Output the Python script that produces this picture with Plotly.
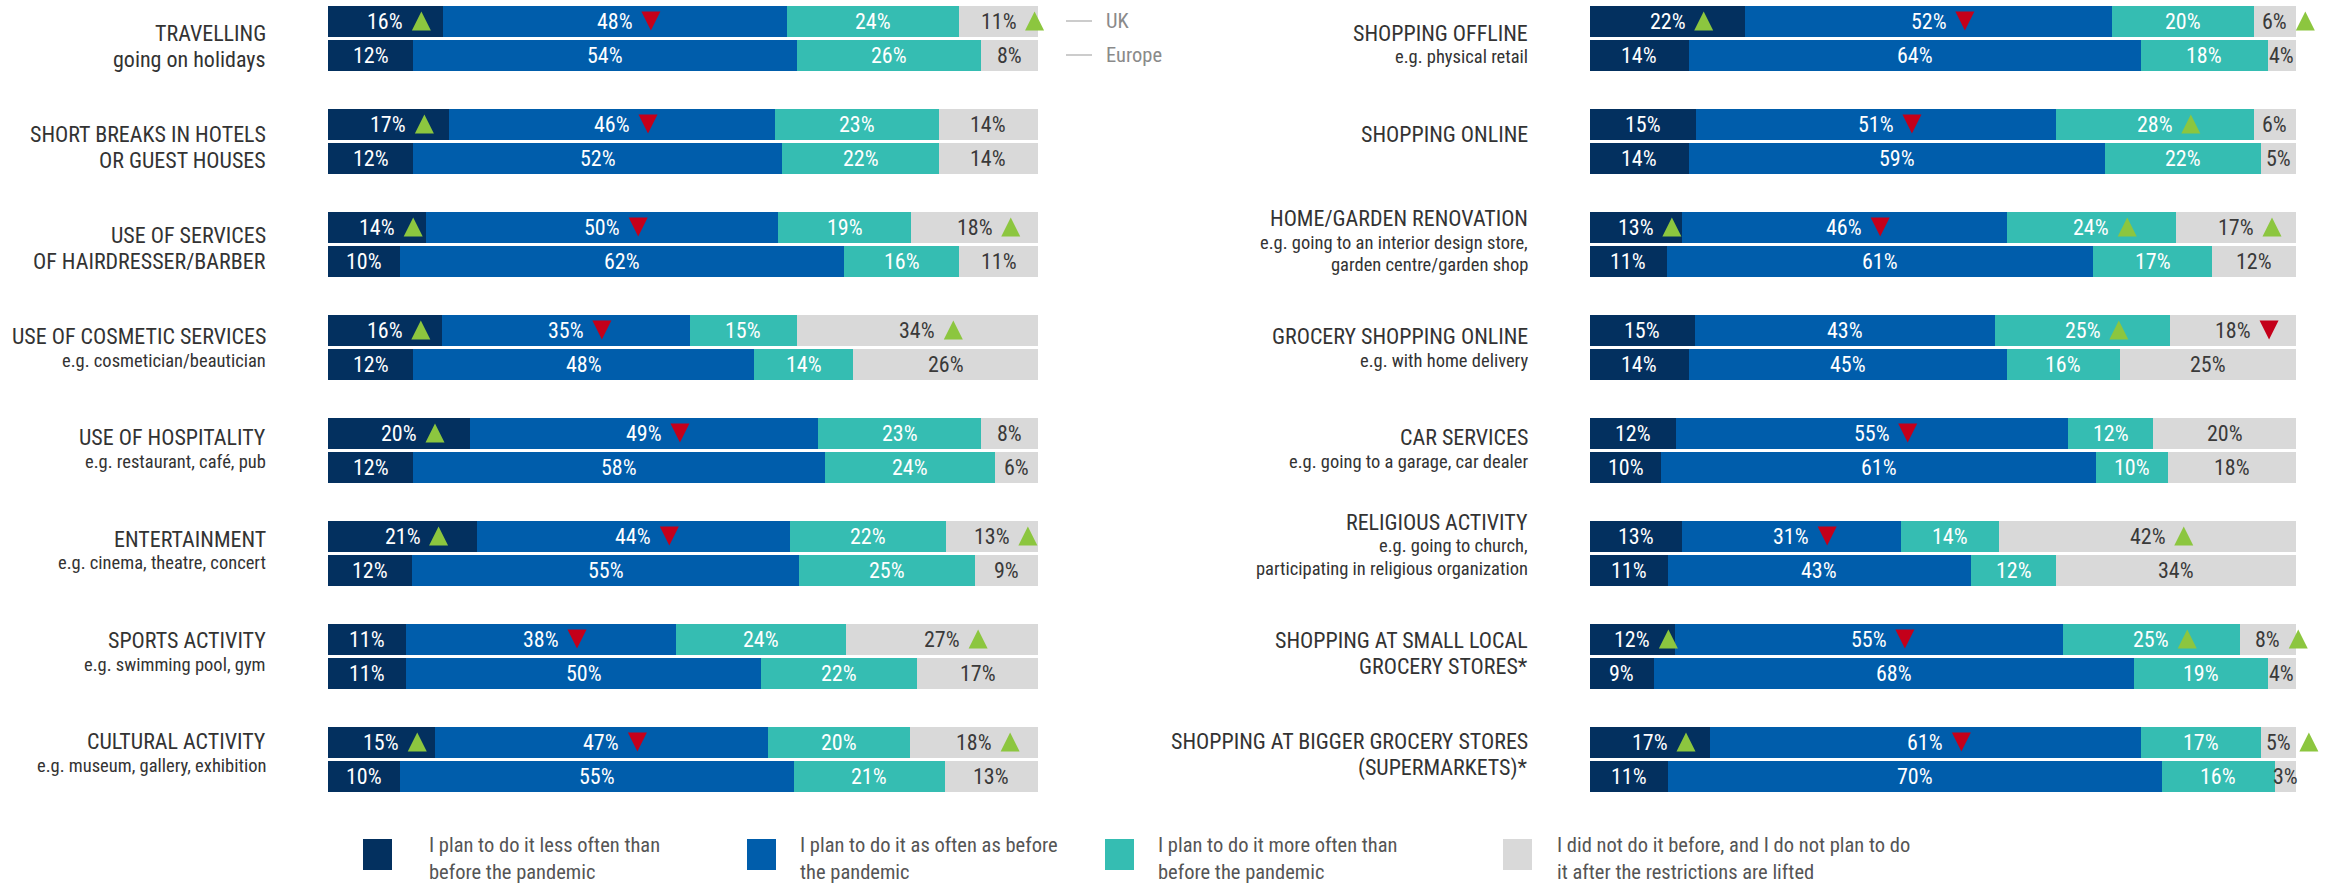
import numpy as np
import plotly.graph_objects as go

FONT = "Roboto Condensed, Liberation Sans Narrow, Arial Narrow, sans-serif"
W, H = 2325, 886

series_names = [
    "I plan to do it less often than<br>before the pandemic",
    "I plan to do it as often as before<br>the pandemic",
    "I plan to do it more often than<br>before the pandemic",
    "I did not do it before, and I do not plan to do<br>it after the restrictions are lifted",
]
colors = ["#03305f", "#005dab", "#35bdb2", "#d9d9d9"]
label_colors = ["white", "white", "white", "#3a3a3a"]
row_names = ["UK", "Europe"]

# ---------------- left panel ----------------
left_titles = [["TRAVELLING", "going on holidays"], ["SHORT BREAKS IN HOTELS", "OR GUEST HOUSES"],
               ["USE OF SERVICES", "OF HAIRDRESSER/BARBER"], ["USE OF COSMETIC SERVICES"],
               ["USE OF HOSPITALITY"], ["ENTERTAINMENT"], ["SPORTS ACTIVITY"], ["CULTURAL ACTIVITY"]]
left_subs = [[], [], [], ["e.g. cosmetician/beautician"], ["e.g. restaurant, café, pub"],
             ["e.g. cinema, theatre, concert"], ["e.g. swimming pool, gym"],
             ["e.g. museum, gallery, exhibition"]]
left_uk = [[16, 48, 24, 11], [17, 46, 23, 14], [14, 50, 19, 18], [16, 35, 15, 34],
           [20, 49, 23, 8], [21, 44, 22, 13], [11, 38, 24, 27], [15, 47, 20, 18]]
left_eu = [[12, 54, 26, 8], [12, 52, 22, 14], [10, 62, 16, 11], [12, 48, 14, 26],
           [12, 58, 24, 6], [12, 55, 25, 9], [11, 50, 22, 17], [10, 55, 21, 13]]
left_marks = [["u", "d", "", "u"], ["u", "d", "", ""], ["u", "d", "", "u"], ["u", "d", "", "u"],
              ["u", "d", "", ""], ["u", "d", "", "u"], ["", "d", "", "u"], ["u", "d", "", "u"]]

# ---------------- right panel ----------------
right_titles = [["SHOPPING OFFLINE"], ["SHOPPING ONLINE"], ["HOME/GARDEN RENOVATION"],
                ["GROCERY SHOPPING ONLINE"], ["CAR SERVICES"], ["RELIGIOUS ACTIVITY"],
                ["SHOPPING AT SMALL LOCAL", "GROCERY STORES*"],
                ["SHOPPING AT BIGGER GROCERY STORES", "(SUPERMARKETS)*"]]
right_subs = [["e.g. physical retail"], [],
              ["e.g. going to an interior design store,", "garden centre/garden shop"],
              ["e.g. with home delivery"], ["e.g. going to a garage, car dealer"],
              ["e.g. going to church,", "participating in religious organization"], [], []]
right_uk = [[22, 52, 20, 6], [15, 51, 28, 6], [13, 46, 24, 17], [15, 43, 25, 18],
            [12, 55, 12, 20], [13, 31, 14, 42], [12, 55, 25, 8], [17, 61, 17, 5]]
right_eu = [[14, 64, 18, 4], [14, 59, 22, 5], [11, 61, 17, 12], [14, 45, 16, 25],
            [10, 61, 10, 18], [11, 43, 12, 34], [9, 68, 19, 4], [11, 70, 16, 3]]
right_marks = [["u", "d", "", "u"], ["", "d", "u", ""], ["u", "d", "u", "u"], ["", "", "u", "d"],
               ["", "d", "", ""], ["", "d", "", "u"], ["u", "d", "u", "u"], ["u", "d", "", "u"]]

# ---------------- layout geometry (pixels) ----------------
GROUP0 = 38.0      # centre of first bar group
PITCH = 103.0      # distance between bar groups
ROW_OFF = 17.0     # UK row above centre, Europe row below
BAR_H = 31
TITLE0 = 45.0      # centre of first title block
TITLE_PITCH = 101.2
LABEL_SIZE = 22
TITLE_SIZE = 22
SUB_SIZE = 18.5
EXTRA = 24         # px of spare room right of the bars so marks are not clipped

fig = go.Figure()
annotations = []
shapes = []


def text_width(s, size=LABEL_SIZE):
    digits = sum(ch.isdigit() for ch in s)
    return size * (0.5 * digits + 0.68)


def panel(uk, eu, marks, titles, subs, xaxis, title_x):
    n = len(uk)
    centers = GROUP0 + PITCH * np.arange(n)
    y_uk = centers - ROW_OFF
    y_eu = centers + ROW_OFF
    ys = np.concatenate([y_uk, y_eu])
    vals = np.array(uk + eu, dtype=float)
    for k in range(4):
        fig.add_trace(go.Bar(
            x=vals[:, k], y=ys, orientation="h", width=BAR_H,
            marker=dict(color=colors[k], line=dict(width=0)),
            xaxis=xaxis, yaxis="y", showlegend=False, hoverinfo="skip",
            name=series_names[k].replace("<br>", " "),
        ))
    norm = vals / vals.sum(axis=1, keepdims=True) * 100
    cum = np.cumsum(norm, axis=1)
    mids = cum - norm / 2
    for r in range(len(ys)):
        for k in range(4):
            txt = f"{int(vals[r, k])}%"
            annotations.append(dict(
                x=mids[r, k], y=ys[r], xref=xaxis, yref="y", text=txt, showarrow=False,
                xanchor="center", yanchor="middle",
                font=dict(family=FONT, size=LABEL_SIZE, color=label_colors[k]),
            ))
            if r < n and marks[r][k]:
                dx = text_width(txt) / 2 + 8
                if marks[r][k] == "u":
                    path = f"M {dx:.1f},-9.5 L {dx + 19:.1f},-9.5 L {dx + 9.5:.1f},9.5 Z"
                    col = "#8cc63f"
                else:
                    path = f"M {dx:.1f},9.5 L {dx + 19:.1f},9.5 L {dx + 9.5:.1f},-9.5 Z"
                    col = "#c4001a"
                shapes.append(dict(
                    type="path", xref=xaxis, yref="y", xsizemode="pixel", ysizemode="pixel",
                    xanchor=mids[r, k], yanchor=ys[r], path=path,
                    fillcolor=col, line=dict(width=0),
                ))
    # category titles
    for i in range(n):
        lines = [(t, TITLE_SIZE) for t in titles[i]] + [(s, SUB_SIZE) for s in subs[i]]
        m = len(lines)
        tc = TITLE0 + TITLE_PITCH * i
        yy = tc - 12 if m < 3 else tc - 29
        for j, (t, sz) in enumerate(lines):
            if j > 0:
                yy += (lines[j - 1][1] + sz) / 2 * 1.2
            annotations.append(dict(
                x=title_x / W, y=yy, xref="paper", yref="y", text=t, showarrow=False,
                xanchor="right", yanchor="middle",
                font=dict(family=FONT, size=sz, color="#333333"),
            ))
    return y_uk, y_eu


y_uk, y_eu = panel(left_uk, left_eu, left_marks, left_titles, left_subs, "x", 268)
panel(right_uk, right_eu, right_marks, right_titles, right_subs, "x2", 1530)

# UK / Europe key
for name, yy in zip(row_names, [y_uk[0], y_eu[0]]):
    shapes.append(dict(type="line", xref="paper", yref="y", x0=1066 / W, x1=1092 / W, y0=yy, y1=yy,
                       line=dict(color="#bbbbbb", width=1.5)))
    annotations.append(dict(x=1104 / W, y=yy, xref="paper", yref="y", text=name, showarrow=False,
                            xanchor="left", yanchor="middle",
                            font=dict(family=FONT, size=20.5, color="#8a8a8a")))

# bottom legend
sq_x = [363, 747, 1105, 1503]
tx_x = [427, 798, 1156, 1555]
for k in range(4):
    shapes.append(dict(type="rect", xref="paper", yref="paper",
                       x0=sq_x[k] / W, x1=(sq_x[k] + 29) / W,
                       y0=1 - 870 / H, y1=1 - 839 / H,
                       fillcolor=colors[k], line=dict(width=0)))
    annotations.append(dict(x=tx_x[k] / W, y=1 - 858 / H, xref="paper", yref="paper",
                            text=series_names[k], showarrow=False, align="left",
                            xanchor="left", yanchor="middle",
                            font=dict(family=FONT, size=20.5, color="#555555")))

L0, L1, R0, R1 = 328, 1038, 1590, 2296
fig.update_layout(
    width=W, height=H, margin=dict(l=0, r=0, t=0, b=0),
    paper_bgcolor="white", plot_bgcolor="white",
    barmode="stack", barnorm="percent", bargap=0,
    xaxis=dict(domain=[L0 / W, (L1 + EXTRA) / W], range=[0, 100 * (L1 - L0 + EXTRA) / (L1 - L0)],
               visible=False, fixedrange=True),
    xaxis2=dict(domain=[R0 / W, (R1 + EXTRA) / W], range=[0, 100 * (R1 - R0 + EXTRA) / (R1 - R0)],
                visible=False, fixedrange=True),
    yaxis=dict(domain=[0, 1], range=[H, 0], visible=False, fixedrange=True),
    annotations=annotations, shapes=shapes, showlegend=False,
)

fig.write_html("out.html")
